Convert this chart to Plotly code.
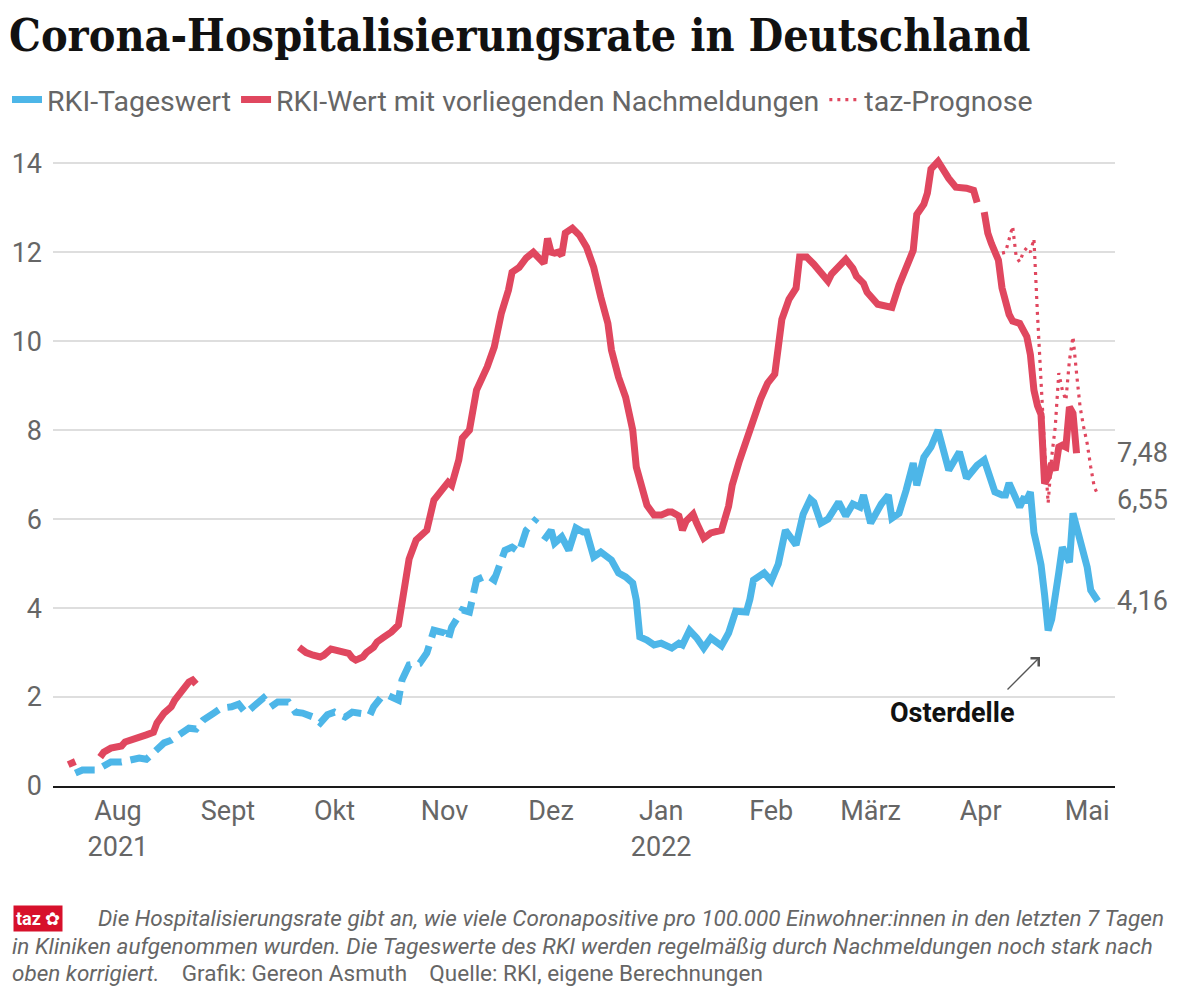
import plotly.graph_objects as go

RED = "#e0475f"
BLUE = "#4db6e8"
GREY = "#666666"
SANS = "Roboto, Inter, sans-serif"

# ---------------- data ----------------
red_dates = [
    "2021-07-18", "2021-07-19", "2021-07-20", "2021-07-21",
    "2021-07-27", "2021-07-28", "2021-07-30", "2021-08-02", "2021-08-03", "2021-08-05",
    "2021-08-07", "2021-08-09", "2021-08-11", "2021-08-12", "2021-08-14", "2021-08-16",
    "2021-08-17", "2021-08-19", "2021-08-21", "2021-08-22", "2021-08-23", "2021-08-24",
    "2021-09-21", "2021-09-23", "2021-09-25", "2021-09-27", "2021-09-28", "2021-09-30",
    "2021-10-01", "2021-10-03", "2021-10-05", "2021-10-06", "2021-10-07", "2021-10-09",
    "2021-10-10", "2021-10-12", "2021-10-13", "2021-10-15", "2021-10-17", "2021-10-19",
    "2021-10-20", "2021-10-22", "2021-10-24", "2021-10-27", "2021-10-29", "2021-10-31",
    "2021-11-02", "2021-11-03", "2021-11-05", "2021-11-06", "2021-11-08", "2021-11-10",
    "2021-11-11", "2021-11-13", "2021-11-15", "2021-11-17", "2021-11-19", "2021-11-20",
    "2021-11-22", "2021-11-24", "2021-11-26", "2021-11-27", "2021-11-28", "2021-11-29",
    "2021-11-30", "2021-12-01", "2021-12-02", "2021-12-03", "2021-12-04", "2021-12-05",
    "2021-12-07", "2021-12-09", "2021-12-11", "2021-12-13", "2021-12-15", "2021-12-17",
    "2021-12-18", "2021-12-20", "2021-12-22", "2021-12-24", "2021-12-25", "2021-12-27",
    "2021-12-28", "2021-12-30", "2022-01-01", "2022-01-03", "2022-01-04", "2022-01-06",
    "2022-01-07", "2022-01-08", "2022-01-10", "2022-01-11", "2022-01-13", "2022-01-15",
    "2022-01-18", "2022-01-20", "2022-01-21", "2022-01-23", "2022-01-25", "2022-01-27",
    "2022-01-29", "2022-01-31", "2022-02-02", "2022-02-03", "2022-02-04", "2022-02-06",
    "2022-02-08", "2022-02-09", "2022-02-11", "2022-02-13", "2022-02-14", "2022-02-15",
    "2022-02-17", "2022-02-18", "2022-02-20", "2022-02-22", "2022-02-24", "2022-02-25",
    "2022-02-27", "2022-02-28", "2022-03-03", "2022-03-05", "2022-03-07", "2022-03-09",
    "2022-03-11", "2022-03-13", "2022-03-14", "2022-03-16", "2022-03-17", "2022-03-18",
    "2022-03-20", "2022-03-22", "2022-03-23", "2022-03-25", "2022-03-26", "2022-03-28",
    "2022-03-30", "2022-03-31", "2022-04-01",
    "2022-04-02", "2022-04-03", "2022-04-04", "2022-04-05", "2022-04-06", "2022-04-07",
    "2022-04-08", "2022-04-09", "2022-04-10", "2022-04-11", "2022-04-12", "2022-04-13",
    "2022-04-14", "2022-04-15", "2022-04-16", "2022-04-17", "2022-04-18", "2022-04-19",
    "2022-04-20", "2022-04-21", "2022-04-22", "2022-04-23", "2022-04-24", "2022-04-25",
    "2022-04-26", "2022-04-27", "2022-04-28",
]
red_values = [
    0.48, 0.51, 0.55, None,
    0.65, 0.76, 0.85, 0.90, 0.99, 1.03,
    1.10, 1.15, 1.21, 1.42, 1.64, 1.78,
    1.93, 2.16, 2.34, 2.38, 2.29, None,
    3.12, 3.00, 2.94, 2.90, 2.94, 3.08,
    3.06, 3.00, 2.98, 2.88, 2.83, 2.90,
    3.00, 3.12, 3.24, 3.35, 3.46, 3.62,
    4.20, 5.10, 5.53, 5.75, 6.43, 6.65,
    6.83, 6.76, 7.33, 7.82, 8.00, 8.90,
    9.06, 9.42, 9.87, 10.63, 11.15, 11.55,
    11.66, 11.87, 12.00, 11.93, 11.85, 11.75,
    12.31, 12.00, 11.98, 12.00, 11.93, 12.43,
    12.54, 12.38, 12.11, 11.66, 10.99, 10.40,
    9.80, 9.19, 8.74, 8.00, 7.17, 6.49,
    6.31, 6.09, 6.09, 6.16, 6.16, 6.07,
    5.75, 5.95, 6.11, 5.91, 5.57, 5.69,
    5.75, 6.29, 6.76, 7.30, 7.78, 8.31,
    8.70, 9.06, 9.26, 9.87, 10.49, 10.94,
    11.19, 11.89, 11.89, 11.73, 11.64, 11.51,
    11.35, 11.51, 11.69, 11.84, 11.64, 11.46,
    11.30, 11.10, 10.83, 10.79, 10.76, 11.26,
    11.64, 12.04, 12.85, 13.08, 13.33, 13.87,
    14.04, 13.75, 13.66, 13.46, 13.46, 13.44,
    13.39, 13.12, None,
    12.90, 12.43, 12.20, 12.05, 11.82, 11.20,
    10.80, 10.60, 10.45, 10.42, 10.40, 10.25,
    10.10, 9.70, 8.90, 8.55, 8.35, 6.80,
    6.94, 7.26, 7.10, 7.62, 7.66, 7.62,
    8.52, 8.38, 7.48,
]

blue_dashed_dates = [
    "2021-07-20", "2021-07-22", "2021-07-26", "2021-07-28", "2021-07-30", "2021-08-02",
    "2021-08-05", "2021-08-07", "2021-08-09", "2021-08-11", "2021-08-14", "2021-08-16",
    "2021-08-19", "2021-08-21", "2021-08-23", "2021-08-25", "2021-08-28", "2021-08-30",
    "2021-09-02", "2021-09-04", "2021-09-06", "2021-09-08", "2021-09-11", "2021-09-13",
    "2021-09-15", "2021-09-18", "2021-09-20", "2021-09-22", "2021-09-25", "2021-09-27",
    "2021-09-29", "2021-10-01", "2021-10-04", "2021-10-06", "2021-10-09", "2021-10-11",
    "2021-10-12", "2021-10-14", "2021-10-16", "2021-10-19", "2021-10-20", "2021-10-22",
    "2021-10-25", "2021-10-27", "2021-10-29", "2021-11-01", "2021-11-02", "2021-11-03",
    "2021-11-06", "2021-11-08", "2021-11-10", "2021-11-13", "2021-11-15", "2021-11-18",
    "2021-11-20", "2021-11-22", "2021-11-24", "2021-11-27",
]
blue_dashed_values = [
    0.29, 0.36, 0.36, 0.43, 0.54, 0.54,
    0.60, 0.63, 0.60, 0.74, 0.97, 1.03,
    1.19, 1.30, 1.28, 1.48, 1.64, 1.75,
    1.78, 1.84, 1.64, 1.78, 1.98, 1.78,
    1.89, 1.89, 1.66, 1.64, 1.55, 1.42,
    1.60, 1.66, 1.55, 1.66, 1.62, 1.60,
    1.78, 1.98, 2.04, 1.93, 2.38, 2.72,
    2.76, 2.99, 3.50, 3.44, 3.28, 3.57,
    3.96, 3.91, 4.63, 4.74, 4.63, 5.30,
    5.37, 5.26, 5.75, 6.02,
]

blue_dates = [
    "2021-11-29", "2021-12-01", "2021-12-02", "2021-12-04", "2021-12-06", "2021-12-08",
    "2021-12-10", "2021-12-11", "2021-12-13", "2021-12-15", "2021-12-18", "2021-12-20",
    "2021-12-22", "2021-12-24", "2021-12-25", "2021-12-26", "2021-12-28", "2021-12-30",
    "2022-01-01", "2022-01-04", "2022-01-06", "2022-01-07", "2022-01-09", "2022-01-11",
    "2022-01-13", "2022-01-15", "2022-01-18", "2022-01-20", "2022-01-22", "2022-01-25",
    "2022-01-26", "2022-01-27", "2022-01-30", "2022-02-01", "2022-02-03", "2022-02-05",
    "2022-02-08", "2022-02-10", "2022-02-12", "2022-02-13", "2022-02-15", "2022-02-17",
    "2022-02-20", "2022-02-22", "2022-02-24", "2022-02-26", "2022-02-27", "2022-03-01",
    "2022-03-04", "2022-03-06", "2022-03-07", "2022-03-09", "2022-03-11", "2022-03-13",
    "2022-03-14", "2022-03-16", "2022-03-18", "2022-03-20", "2022-03-23", "2022-03-26",
    "2022-03-28", "2022-03-31", "2022-04-02", "2022-04-05", "2022-04-07", "2022-04-08",
    "2022-04-09", "2022-04-12", "2022-04-13", "2022-04-14", "2022-04-15", "2022-04-16",
    "2022-04-17", "2022-04-18", "2022-04-19", "2022-04-20", "2022-04-21", "2022-04-22",
    "2022-04-23", "2022-04-24", "2022-04-25", "2022-04-26", "2022-04-27", "2022-04-28",
    "2022-04-29", "2022-04-30", "2022-05-01", "2022-05-02", "2022-05-03", "2022-05-04",
]
blue_values = [
    5.53, 5.75, 5.46, 5.60, 5.30, 5.80,
    5.71, 5.71, 5.15, 5.26, 5.08, 4.79,
    4.70, 4.56, 4.18, 3.35, 3.28, 3.17,
    3.21, 3.10, 3.21, 3.17, 3.50, 3.33,
    3.10, 3.33, 3.15, 3.44, 3.93, 3.91,
    4.20, 4.63, 4.79, 4.61, 4.99, 5.75,
    5.42, 6.11, 6.45, 6.38, 5.91, 6.00,
    6.38, 6.07, 6.34, 6.27, 6.54, 5.91,
    6.34, 6.54, 6.02, 6.13, 6.65, 7.26,
    6.76, 7.39, 7.62, 8.00, 7.10, 7.51,
    6.92, 7.21, 7.33, 6.61, 6.54, 6.54,
    6.81, 6.27, 6.45, 6.43, 6.61, 5.70,
    5.35, 4.97, 4.30, 3.50, 3.75, 4.40,
    4.80, 5.37, 5.20, 5.03, 6.13, 5.80,
    5.46, 5.20, 4.92, 4.40, 4.25, 4.16,
]

prog_dates = [
    "2022-04-06", "2022-04-07", "2022-04-08", "2022-04-09", "2022-04-10", "2022-04-11",
    "2022-04-12", "2022-04-13", "2022-04-14", "2022-04-15", "2022-04-16", "2022-04-17",
    "2022-04-18", "2022-04-19", "2022-04-20", "2022-04-21", "2022-04-22", "2022-04-23",
    "2022-04-24", "2022-04-25", "2022-04-26", "2022-04-27", "2022-04-28", "2022-04-29",
    "2022-04-30", "2022-05-01", "2022-05-02", "2022-05-03", "2022-05-04",
]
prog_values = [
    11.82, 11.98, 12.00, 12.30, 12.58, 11.90,
    11.78, 12.00, 12.10, 12.00, 12.30, 10.60,
    9.00, 7.60, 6.36, 7.40, 8.07, 9.28,
    8.90, 8.67, 9.57, 10.10, 9.28, 8.52,
    8.07, 7.70, 7.17, 6.72, 6.55,
]

month_ticks = ["2021-08-01", "2021-09-01", "2021-10-01", "2021-11-01", "2021-12-01",
               "2022-01-01", "2022-02-01", "2022-03-01", "2022-04-01", "2022-05-01"]
month_labels = ["Aug<br>2021", "Sept", "Okt", "Nov", "Dez",
                "Jan<br>2022", "Feb", "März", "Apr", "Mai"]
y_ticks = [0, 2, 4, 6, 8, 10, 12, 14]
y_labels = ["0", "2", "4", "6", "8", "10", "12", "14"]

end_labels = ["7,48", "6,55", "4,16"]
end_label_y = [7.48, 6.42, 4.16]

# ---------------- figure ----------------
W, H = 1200, 1003
L, R, T, B = 53, 85, 141, 217
PW, PH = W - L - R, H - T - B


def px(xp):
    return (xp - L) / PW


def py(yp):
    return (H - B - yp) / PH


fig = go.Figure()
fig.add_trace(go.Scatter(
    x=blue_dashed_dates, y=blue_dashed_values, mode="lines",
    line=dict(color=BLUE, width=7, dash="20px,9px"),
    name="RKI-Tageswert", legendgroup="blue", showlegend=False, hoverinfo="skip"))
fig.add_trace(go.Scatter(
    x=blue_dates, y=blue_values, mode="lines",
    line=dict(color=BLUE, width=7),
    name="RKI-Tageswert", legendgroup="blue"))
fig.add_trace(go.Scatter(
    x=red_dates, y=red_values, mode="lines", connectgaps=False,
    line=dict(color=RED, width=7),
    name="RKI-Wert mit vorliegenden Nachmeldungen"))
fig.add_trace(go.Scatter(
    x=prog_dates, y=prog_values, mode="lines",
    line=dict(color=RED, width=3.2, dash="3px,5px"),
    name="taz-Prognose"))

annotations = []
for txt, yv in zip(end_labels, end_label_y):
    annotations.append(dict(xref="paper", yref="y", x=1, y=yv, text=txt,
                            xanchor="left", yanchor="middle", showarrow=False,
                            font=dict(family=SANS, size=27, color=GREY)))

annotations.append(dict(xref="x", yref="y", x="2022-03-24", y=1.64,
                        text="<b>Osterdelle</b>", showarrow=False,
                        font=dict(family=SANS, size=27, color="#111111")))
annotations.append(dict(xref="x", yref="y", x="2022-04-17 17:00", y=2.9,
                        ax=-34, ay=34, text="", showarrow=True,
                        arrowhead=4, arrowsize=1.6, arrowwidth=1.4,
                        arrowcolor="#555555"))

# footer
annotations.append(dict(xref="paper", yref="paper", x=px(38), y=py(918),
                        text="<b>taz</b> ✿", showarrow=False, xanchor="center", yanchor="middle",
                        bgcolor="#d7102b", borderpad=2,
                        font=dict(family=SANS, size=18, color="white")))
foot_font = dict(family=SANS, size=22.5, color=GREY)
annotations.append(dict(xref="paper", yref="paper", x=px(96), y=py(918), xanchor="left",
                        yanchor="middle", showarrow=False, font=foot_font,
                        text="<i>Die Hospitalisierungsrate gibt an, wie viele Coronapositive pro "
                             "100.000 Einwohner:innen in den letzten 7 Tagen</i>"))
annotations.append(dict(xref="paper", yref="paper", x=px(10), y=py(946), xanchor="left",
                        yanchor="middle", showarrow=False, font=foot_font,
                        text="<i>in Kliniken aufgenommen wurden. Die Tageswerte des RKI werden "
                             "regelmäßig durch Nachmeldungen noch stark nach</i>"))
annotations.append(dict(xref="paper", yref="paper", x=px(10), y=py(973), xanchor="left",
                        yanchor="middle", showarrow=False, font=foot_font,
                        text="<i>oben korrigiert.</i>\u00a0\u00a0\u00a0 Grafik: Gereon Asmuth"
                             "\u00a0\u00a0\u00a0 Quelle: RKI, eigene Berechnungen"))

fig.update_layout(
    width=W, height=H, autosize=False,
    margin=dict(l=L, r=R, t=T, b=B, pad=0),
    paper_bgcolor="white", plot_bgcolor="white",
    title=dict(text="<b>Corona-Hospitalisierungsrate in Deutschland</b>",
               font=dict(family="DejaVu Serif Condensed, DejaVu Serif", size=44.5, color="#111111"),
               xref="container", yref="container", x=9 / W, xanchor="left",
               y=1 - 35 / H, yanchor="middle"),
    legend=dict(orientation="h", xref="container", yref="container",
                x=7 / W, xanchor="left", y=1 - 100 / H, yanchor="middle",
                font=dict(family=SANS, size=28.5, color=GREY),
                itemwidth=30, bgcolor="rgba(0,0,0,0)"),
    xaxis=dict(type="date", range=["2021-07-13 17:00", "2022-05-08 20:00"],
               tickmode="array", tickvals=month_ticks, ticktext=month_labels,
               showgrid=False, zeroline=False, showline=True, linecolor="#1a1a1a",
               linewidth=2, ticks="", tickfont=dict(family=SANS, size=27, color=GREY),
               fixedrange=True),
    yaxis=dict(range=[0, 14.5], tickmode="array", tickvals=y_ticks, ticktext=y_labels,
               showgrid=True, gridcolor="#dedede", gridwidth=1.5, zeroline=False,
               showline=False, ticks="", ticklabelstandoff=10,
               tickfont=dict(family=SANS, size=27, color=GREY), fixedrange=True),
    annotations=annotations,
    hovermode=False,
)

fig.write_html("out.html", config={"displayModeBar": False},
               post_script="document.body.style.margin='0';document.body.style.overflow='hidden';")
